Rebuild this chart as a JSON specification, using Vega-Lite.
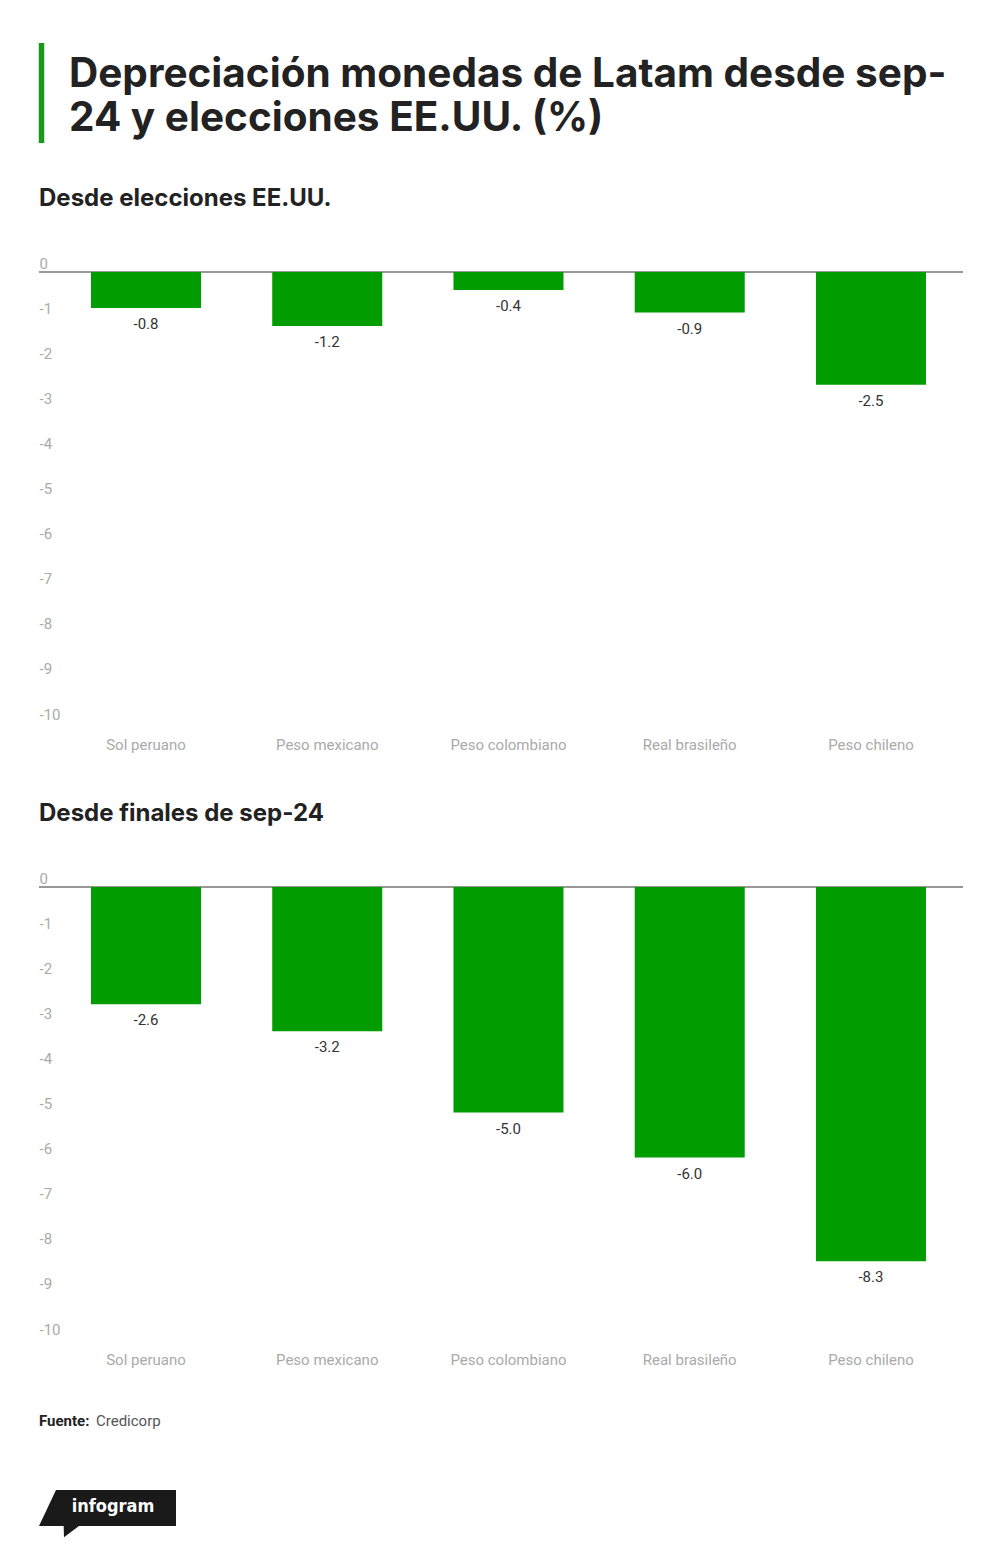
{
  "$schema": "https://vega.github.io/schema/vega-lite/v6.json",
  "description": "Depreciación monedas de Latam desde sep-24 y elecciones EE.UU.",
  "padding": {"left": 38, "top": 40, "right": 38, "bottom": 0},
  "spacing": 41,
  "background": "white",
  "datasets": {
    "elecciones": [
      {"moneda": "Sol peruano", "valor": -0.8},
      {"moneda": "Peso mexicano", "valor": -1.2},
      {"moneda": "Peso colombiano", "valor": -0.4},
      {"moneda": "Real brasileño", "valor": -0.9},
      {"moneda": "Peso chileno", "valor": -2.5}
    ],
    "sep24": [
      {"moneda": "Sol peruano", "valor": -2.6},
      {"moneda": "Peso mexicano", "valor": -3.2},
      {"moneda": "Peso colombiano", "valor": -5.0},
      {"moneda": "Real brasileño", "valor": -6.0},
      {"moneda": "Peso chileno", "valor": -8.3}
    ],
    "textos": [
      {"linea1": "Depreciación monedas de Latam desde sep-", "linea2": "24 y elecciones EE.UU. (%)", "fuente": "Fuente:", "origen": "Credicorp", "logo": "infogram"}
    ]
  },
  "vconcat": [
    {
      "width": 924,
      "height": 100,
      "data": {"name": "textos"},
      "layer": [
        {
          "mark": {"type": "rule", "color": "#1a9a1a", "strokeWidth": 5.5},
          "encoding": {"x": {"value": 2.5}, "y": {"value": 0}, "y2": {"value": 100}}
        },
        {
          "mark": {"type": "text", "align": "left", "baseline": "alphabetic", "font": "Inter", "fontSize": 40.5, "fontWeight": "bold", "color": "#222222"},
          "encoding": {"text": {"field": "linea1"}, "x": {"value": 30}, "y": {"value": 44}}
        },
        {
          "mark": {"type": "text", "align": "left", "baseline": "alphabetic", "font": "Inter", "fontSize": 40.5, "fontWeight": "bold", "color": "#222222"},
          "encoding": {"text": {"field": "linea2"}, "x": {"value": 30}, "y": {"value": 88}}
        }
      ]
    },
    {
      "width": 924,
      "height": 451,
      "title": {"text": "Desde elecciones EE.UU."},
      "data": {"name": "elecciones"},
      "layer": [
        {
          "mark": {"type": "rule", "color": "#999999", "strokeWidth": 1.5},
          "encoding": {"y": {"datum": 0, "type": "quantitative", "scale": {"domain": [-10, 0], "nice": false}}}
        },
        {
          "mark": {"type": "bar", "color": "#009c00"},
          "encoding": {
            "x": {"field": "moneda", "type": "nominal", "sort": null, "scale": {"align": 0.584}, "axis": {"minExtent": 38}},
            "y": {"field": "valor", "type": "quantitative"}
          }
        },
        {
          "mark": {"type": "text", "baseline": "top", "dy": 9, "fontSize": 15, "color": "#333333"},
          "encoding": {
            "x": {"field": "moneda", "type": "nominal", "sort": null},
            "y": {"field": "valor", "type": "quantitative"},
            "text": {"field": "valor", "type": "quantitative", "format": ".1f"}
          }
        }
      ]
    },
    {
      "width": 924,
      "height": 451,
      "title": {"text": "Desde finales de sep-24"},
      "data": {"name": "sep24"},
      "layer": [
        {
          "mark": {"type": "rule", "color": "#999999", "strokeWidth": 1.5},
          "encoding": {"y": {"datum": 0, "type": "quantitative", "scale": {"domain": [-10, 0], "nice": false}}}
        },
        {
          "mark": {"type": "bar", "color": "#009c00"},
          "encoding": {
            "x": {"field": "moneda", "type": "nominal", "sort": null, "scale": {"align": 0.584}},
            "y": {"field": "valor", "type": "quantitative"}
          }
        },
        {
          "mark": {"type": "text", "baseline": "top", "dy": 9, "fontSize": 15, "color": "#333333"},
          "encoding": {
            "x": {"field": "moneda", "type": "nominal", "sort": null},
            "y": {"field": "valor", "type": "quantitative"},
            "text": {"field": "valor", "type": "quantitative", "format": ".1f"}
          }
        }
      ]
    },
    {
      "width": 924,
      "height": 150,
      "data": {"name": "textos"},
      "layer": [
        {
          "mark": {"type": "text", "align": "left", "baseline": "middle", "fontSize": 15, "fontWeight": "bold", "color": "#222222"},
          "encoding": {"text": {"field": "fuente"}, "x": {"value": 0}, "y": {"value": 13}}
        },
        {
          "mark": {"type": "text", "align": "left", "baseline": "middle", "fontSize": 15, "color": "#555555"},
          "encoding": {"text": {"field": "origen"}, "x": {"value": 57}, "y": {"value": 13}}
        },
        {
          "mark": {"type": "point", "filled": true, "color": "#1a1a1a", "opacity": 1, "size": 18769, "shape": "M -0.752 -0.35 L 1 -0.35 L 1 0.175 L -0.416 0.175 L -0.635 0.34 L -0.64 0.175 L -1 0.175 Z"},
          "encoding": {"x": {"value": 68.5}, "y": {"value": 106}}
        },
        {
          "mark": {"type": "text", "align": "center", "baseline": "middle", "fontSize": 18, "fontWeight": "bold", "font": "DejaVu Sans Condensed", "color": "white"},
          "encoding": {"text": {"field": "logo"}, "x": {"value": 74}, "y": {"value": 99}}
        }
      ]
    }
  ],
  "resolve": {"scale": {"x": "independent", "y": "independent"}},
  "config": {
    "font": "Roboto",
    "locale": {"number": {"decimal": ".", "thousands": ",", "grouping": [3], "currency": ["$", ""], "minus": "-"}},
    "view": {"stroke": null},
    "title": {"anchor": "start", "font": "Inter", "fontSize": 24, "fontWeight": "bold", "color": "#222222", "offset": 45, "frame": "group"},
    "scale": {"bandPaddingInner": 0.393, "bandPaddingOuter": 0.2456},
    "axisX": {"title": null, "domain": false, "ticks": false, "labelAngle": 0, "labelFontSize": 15, "labelColor": "#aaaaaa", "labelPadding": 14, "labelLimit": 200},
    "axisY": {"title": null, "domain": false, "ticks": false, "grid": false, "labelFontSize": 15, "labelColor": "#aaaaaa", "labelAlign": "left", "labelBaseline": "alphabetic", "labelOffset": -4, "labelPadding": 0, "values": [0, -1, -2, -3, -4, -5, -6, -7, -8, -9, -10]}
  }
}
